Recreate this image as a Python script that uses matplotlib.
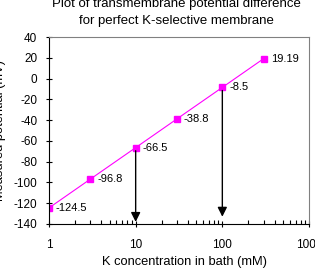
import matplotlib
matplotlib.use('Agg')
import matplotlib.pyplot as plt

# data
conc = [1, 3, 10, 30, 100, 300]
potential = [-124.5, -96.8, -66.5, -38.8, -8.5, 19.19]
point_labels = ['-124.5', '-96.8', '-66.5', '-38.8', '-8.5', '19.19']
arrow_x = [10, 100]
arrow_from = [-66.5, -8.5]
arrow_to = [-138, -133]

plt.rcParams['font.family'] = ['Liberation Sans', 'DejaVu Sans']
plt.rcParams['font.size'] = 8
plt.rcParams['axes.unicode_minus'] = False

fig = plt.figure(figsize=(3.15, 2.7), dpi=100)
ax = fig.add_axes([49/315, 1 - 224/270, 260/315, 187/270])

ax.plot(conc, potential, color='#ff00ff', lw=0.8, marker='s', ms=4.5,
        mec='#ff00ff', mfc='#ff00ff')
for x, y, t in zip(conc, potential, point_labels):
    ax.annotate(t, (x, y), xytext=(5, 0), textcoords='offset points',
                va='center', ha='left', fontsize=8)

for x, y0, y1 in zip(arrow_x, arrow_from, arrow_to):
    ax.annotate('', xy=(x, y1), xytext=(x, y0 - 3),
                arrowprops=dict(arrowstyle='-|>,head_length=0.7,head_width=0.35',
                                color='black', lw=1.0, shrinkA=0, shrinkB=0))

ax.set_xscale('log')
ax.set_xlim(1, 1000)
ax.set_ylim(-140, 40)
ax.set_yticks(range(-140, 41, 20))
ax.set_xticks([1, 10, 100, 1000])
ax.set_xticklabels(['1', '10', '100', '1000'])
ax.tick_params(axis='both', direction='inout', length=5, width=0.8, labelsize=8.5)
ax.tick_params(axis='x', which='minor', direction='in', length=3, width=0.8)
ax.tick_params(axis='x', pad=8)
ax.tick_params(axis='y', pad=6)
for s in ['top', 'right']:
    ax.spines[s].set_color('#808080')
for s in ['left', 'bottom']:
    ax.spines[s].set_color('black')

ax.set_xlabel('K concentration in bath (mM)', fontsize=9.3, va='center')
ax.xaxis.set_label_coords(0.52, -38/187)
ax.set_ylabel('Measured potential (mV)', fontsize=9.3)
ax.yaxis.set_label_coords(-0.165, 0.5)

fig.text(0.56, 1 - 4/270, 'Plot of transmembrane potential difference',
         ha='center', va='center', fontsize=9.5)
fig.text(0.56, 1 - 21/270, 'for perfect K-selective membrane',
         ha='center', va='center', fontsize=9.5)

fig.savefig('out.png', dpi=100)
